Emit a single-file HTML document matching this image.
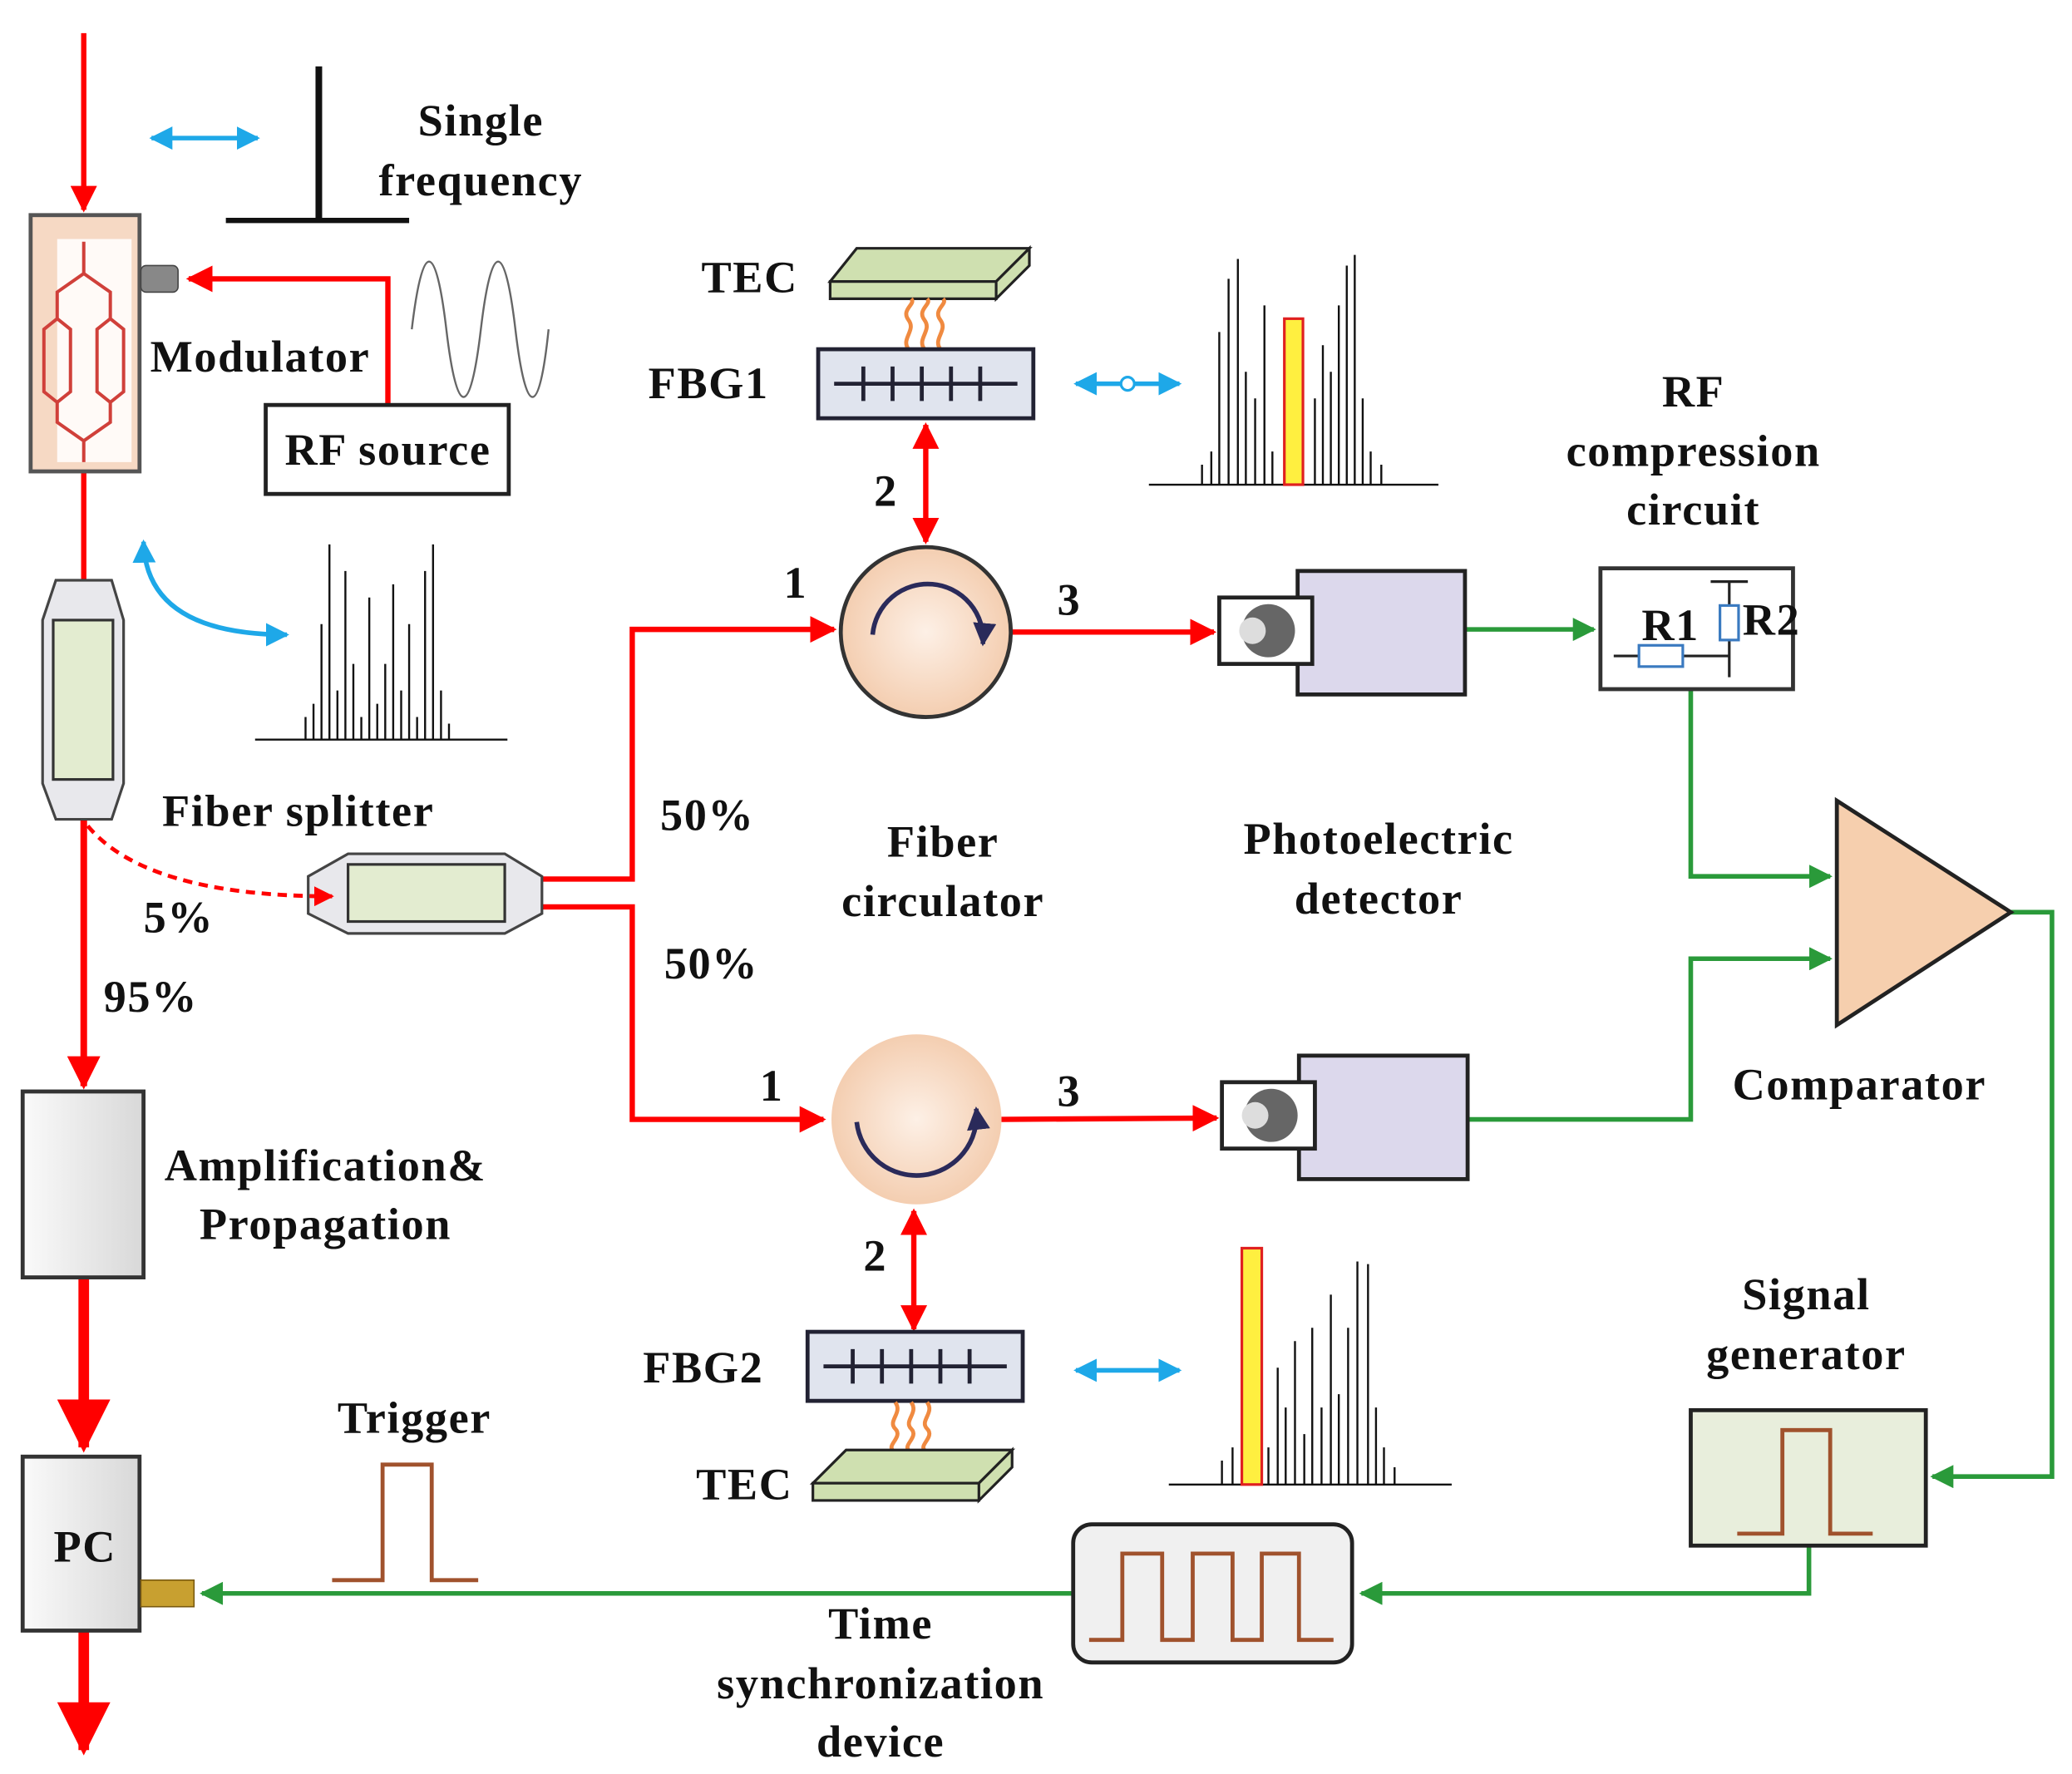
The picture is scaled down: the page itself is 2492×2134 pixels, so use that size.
<!DOCTYPE html>
<html><head><meta charset="utf-8"><style>
html,body{margin:0;padding:0;background:#fff;}
svg{display:block;}
text{font-family:"Liberation Serif",serif;font-weight:bold;font-size:34px;letter-spacing:1px;fill:#111;}
</style></head><body>
<svg width="2492" height="2134" viewBox="0 0 1560 1336" xmlns="http://www.w3.org/2000/svg">
<defs>
<marker id="ar" viewBox="0 0 10 10" refX="9" refY="5" markerWidth="5" markerHeight="5" orient="auto-start-reverse"><path d="M0,0L10,5L0,10z" fill="#f00"/></marker>
<marker id="ag" viewBox="0 0 10 10" refX="9" refY="5" markerWidth="5" markerHeight="5" orient="auto-start-reverse"><path d="M0,0L10,5L0,10z" fill="#2a9a3a"/></marker>
<marker id="ab" viewBox="0 0 10 10" refX="9" refY="5" markerWidth="5" markerHeight="5" orient="auto-start-reverse"><path d="M0,0L10,5L0,10z" fill="#1ea8e8"/></marker>
<marker id="ak" viewBox="0 0 10 10" refX="9" refY="5" markerWidth="5" markerHeight="5" orient="auto"><path d="M0,0L10,5L0,10z" fill="#2a2a5a"/></marker>
<radialGradient id="cg" cx="0.5" cy="0.5" r="0.6"><stop offset="0" stop-color="#fdf0e6"/><stop offset="1" stop-color="#f2c7a6"/></radialGradient>
<linearGradient id="gg" x1="0" x2="1"><stop offset="0" stop-color="#fafafa"/><stop offset="1" stop-color="#d8d8d8"/></linearGradient>
</defs>
<g stroke="#f00" stroke-width="4" fill="none">
<line x1="63" y1="25" x2="63" y2="158" marker-end="url(#ar)"/>
<polyline points="292,305 292,210 142,210" marker-end="url(#ar)"/>
<line x1="63" y1="355" x2="63" y2="463" marker-end="url(#ar)"/>
<line x1="63" y1="617" x2="63" y2="818" stroke-width="5" marker-end="url(#ar)"/>
<polyline points="408,662 476,662 476,474 628,474" marker-end="url(#ar)"/>
<polyline points="408,683 476,683 476,843 620,843" marker-end="url(#ar)"/>
<line x1="762" y1="476" x2="914" y2="476" marker-end="url(#ar)"/>
<line x1="754" y1="843" x2="916" y2="842" marker-end="url(#ar)"/>
<line x1="697" y1="320" x2="697" y2="408" marker-start="url(#ar)" marker-end="url(#ar)"/>
<line x1="688" y1="912" x2="688" y2="1001" marker-start="url(#ar)" marker-end="url(#ar)"/>
<line x1="63" y1="962" x2="63" y2="1090" stroke-width="8" marker-end="url(#ar)"/>
<line x1="63" y1="1228" x2="63" y2="1318" stroke-width="8" marker-end="url(#ar)"/>
</g>
<g stroke="#2a9a3a" stroke-width="3.5" fill="none">
<line x1="1103" y1="474" x2="1200" y2="474" marker-end="url(#ag)"/>
<polyline points="1273,519 1273,660 1378,660" marker-end="url(#ag)"/>
<polyline points="1105,843 1273,843 1273,722 1378,722" marker-end="url(#ag)"/>
<polyline points="1514,687 1545,687 1545,1112 1455,1112" marker-end="url(#ag)"/>
<polyline points="1362,1164 1362,1200 1025,1200" marker-end="url(#ag)"/>
<line x1="808" y1="1200" x2="152" y2="1200" marker-end="url(#ag)"/>
</g>
<g stroke="#1ea8e8" stroke-width="3.5" fill="none">
<line x1="114" y1="104" x2="194" y2="104" marker-start="url(#ab)" marker-end="url(#ab)"/>
<path d="M108,408 Q110,478 216,478" marker-start="url(#ab)" marker-end="url(#ab)"/>
<line x1="810" y1="289" x2="888" y2="289" marker-start="url(#ab)" marker-end="url(#ab)"/>
<line x1="810" y1="1032" x2="888" y2="1032" marker-start="url(#ab)" marker-end="url(#ab)"/>
</g>
<circle cx="849" cy="289" r="5" fill="#fff" stroke="#1ea8e8" stroke-width="2"/>
<line x1="240" y1="50" x2="240" y2="166" stroke="#111" stroke-width="5"/>
<line x1="170" y1="166" x2="308" y2="166" stroke="#111" stroke-width="4"/>
<text x="362" y="102" text-anchor="middle">Single</text>
<text x="362" y="147" text-anchor="middle">frequency</text>
<rect x="23" y="162" width="82" height="193" fill="#f6d9c4" stroke="#555" stroke-width="3"/>
<rect x="43" y="180" width="56" height="168" fill="#fffaf7"/>
<g stroke="#d0403a" stroke-width="2.5" fill="none">
<path d="M63,182V206L43,220V240L33,248V295L43,303V318L63,332V348"/>
<path d="M63,206L83,220V240L93,248V295L83,303V318L63,332"/>
<path d="M43,240L53,248V295L43,303M83,240L73,248V295L83,303"/>
</g>
<rect x="106" y="200" width="28" height="20" rx="4" fill="#888" stroke="#444"/>
<text x="113" y="280">Modulator</text>
<path d="M310,248 C318,180 328,180 336,248 C344,316 354,316 362,248 C370,180 380,180 388,248 C396,316 406,316 413,248" stroke="#666" stroke-width="1.5" fill="none"/>
<rect x="200" y="305" width="183" height="67" fill="#fff" stroke="#222" stroke-width="3"/>
<text x="292" y="350" text-anchor="middle">RF source</text>
<path d="M42,437H84L93,467V590L84,617H42L32,590V467z" fill="#e8e8ec" stroke="#444" stroke-width="2"/>
<rect x="40" y="467" width="45" height="120" fill="#e3ecd0" stroke="#333" stroke-width="2"/>
<text x="122" y="622">Fiber splitter</text>
<text x="108" y="702">5%</text>
<text x="78" y="762">95%</text>
<g stroke="#111" stroke-width="1.5">
<line x1="192" y1="557" x2="382" y2="557"/>
<path d="M230,557V540M236,557V530M242,557V470M248,557V410M254,557V520M260,557V430M266,557V500M272,557V540M278,557V450M284,557V530M290,557V500M296,557V440M302,557V520M308,557V470M314,557V540M320,557V430M326,557V410M332,557V520M338,557V545"/>
</g>
<path d="M262,643H380L408,660V688L380,703H262L232,688V660z" fill="#e8e8ec" stroke="#444" stroke-width="2"/>
<rect x="262" y="651" width="118" height="43" fill="#e3ecd0" stroke="#333" stroke-width="2"/>
<path d="M66,622 Q110,675 250,675" stroke="#f00" stroke-dasharray="7,5" stroke-width="3" fill="none" marker-end="url(#ar)"/>
<text x="497" y="625">50%</text>
<text x="500" y="737">50%</text>
<path d="M625,212L645,187H775L750,212z" fill="#cfe0b0" stroke="#222" stroke-width="2"/>
<path d="M625,212H750V225H625z M750,212L775,187V200L750,225z" fill="#cfe0b0" stroke="#222" stroke-width="2"/>
<g stroke="#f08a40" stroke-width="3" fill="none">
<path d="M684,263c-6,-8 6,-14 0,-22s6,-12 2,-16M696,263c-6,-8 6,-14 0,-22s6,-12 2,-16M708,263c-6,-8 6,-14 0,-22s6,-12 2,-16"/>
</g>
<rect x="616" y="263" width="162" height="52" fill="#e0e4ee" stroke="#223" stroke-width="3"/>
<g stroke="#223" stroke-width="3"><line x1="628" y1="289" x2="766" y2="289"/><path d="M650,276V302M672,276V302M694,276V302M716,276V302M738,276V302"/></g>
<text x="528" y="220">TEC</text>
<text x="488" y="300">FBG1</text>
<g stroke="#111" stroke-width="1.5">
<line x1="865" y1="365" x2="1083" y2="365"/>
<path d="M905,365V350M912,365V340M918,365V250M925,365V210M932,365V195M938,365V280M945,365V300M952,365V230M958,365V340M990,365V300M996,365V260M1002,365V280M1008,365V230M1014,365V200M1020,365V192M1026,365V300M1032,365V340M1040,365V350"/>
</g>
<rect x="967" y="240" width="14" height="125" fill="#ffef40" stroke="#e02020" stroke-width="2"/>
<circle cx="697" cy="476" r="64" fill="url(#cg)" stroke="#333" stroke-width="3"/>
<path d="M657,478 A40,40 0 1,1 740,485" stroke="#2a2a5a" stroke-width="3.5" fill="none" marker-end="url(#ak)"/>
<text x="590" y="450" font-weight="normal">1</text>
<text x="796" y="463" font-weight="normal">3</text>
<text x="658" y="381" font-weight="normal">2</text>
<text x="710" y="645" text-anchor="middle">Fiber</text>
<text x="710" y="690" text-anchor="middle">circulator</text>
<circle cx="690" cy="843" r="64" fill="url(#cg)"/>
<path d="M645,845 A42,42 0 0,0 735,835" stroke="#2a2a5a" stroke-width="3.5" fill="none" marker-end="url(#ak)"/>
<text x="572" y="829" font-weight="normal">1</text>
<text x="796" y="833" font-weight="normal">3</text>
<text x="650" y="957" font-weight="normal">2</text>
<rect x="608" y="1003" width="162" height="52" fill="#e0e4ee" stroke="#223" stroke-width="3"/>
<g stroke="#223" stroke-width="3"><line x1="620" y1="1029" x2="758" y2="1029"/><path d="M642,1016V1042M664,1016V1042M686,1016V1042M708,1016V1042M730,1016V1042"/></g>
<g stroke="#f08a40" stroke-width="3" fill="none">
<path d="M674,1056c6,8 -6,14 0,20s-6,12 -2,16M686,1056c6,8 -6,14 0,20s-6,12 -2,16M698,1056c6,8 -6,14 0,20s-6,12 -2,16"/>
</g>
<path d="M612,1117L637,1092H762L737,1117z" fill="#cfe0b0" stroke="#222" stroke-width="2"/>
<path d="M612,1117H737V1130H612z M737,1117L762,1092V1105L737,1130z" fill="#cfe0b0" stroke="#222" stroke-width="2"/>
<text x="484" y="1041">FBG2</text>
<text x="524" y="1129">TEC</text>
<g stroke="#111" stroke-width="1.5">
<line x1="880" y1="1118" x2="1093" y2="1118"/>
<path d="M920,1118V1100M928,1118V1090M955,1118V1090M962,1118V1030M968,1118V1060M975,1118V1010M982,1118V1080M988,1118V1000M995,1118V1060M1002,1118V975M1008,1118V1050M1015,1118V1000M1022,1118V950M1030,1118V952M1036,1118V1060M1042,1118V1090M1050,1118V1105"/>
</g>
<rect x="935" y="940" width="15" height="178" fill="#ffef40" stroke="#e02020" stroke-width="2"/>
<g>
<rect x="977" y="430" width="126" height="93" fill="#dcd8ec" stroke="#222" stroke-width="3"/>
<rect x="918" y="450" width="70" height="50" fill="#fff" stroke="#222" stroke-width="3"/>
<circle cx="955" cy="475" r="20" fill="#666"/><circle cx="943" cy="475" r="10" fill="#ddd"/>
<rect x="978" y="795" width="127" height="93" fill="#dcd8ec" stroke="#222" stroke-width="3"/>
<rect x="920" y="815" width="70" height="50" fill="#fff" stroke="#222" stroke-width="3"/>
<circle cx="957" cy="840" r="20" fill="#666"/><circle cx="945" cy="840" r="10" fill="#ddd"/>
</g>
<text x="1038" y="643" text-anchor="middle">Photoelectric</text>
<text x="1038" y="688" text-anchor="middle">detector</text>
<text x="1275" y="306" text-anchor="middle">RF</text>
<text x="1275" y="351" text-anchor="middle">compression</text>
<text x="1275" y="395" text-anchor="middle">circuit</text>
<rect x="1205" y="428" width="145" height="91" fill="#fff" stroke="#333" stroke-width="3"/>
<g stroke="#222" stroke-width="2" fill="none">
<line x1="1215" y1="494" x2="1302" y2="494"/><line x1="1302" y1="438" x2="1302" y2="510"/><line x1="1288" y1="438" x2="1316" y2="438"/>
</g>
<rect x="1234" y="486" width="33" height="16" fill="#fff" stroke="#3a7ac0" stroke-width="2"/>
<rect x="1295" y="456" width="14" height="26" fill="#fff" stroke="#3a7ac0" stroke-width="2"/>
<text x="1236" y="482" font-size="22" font-weight="normal" letter-spacing="0" fill="#333">R1</text>
<text x="1312" y="478" font-size="22" font-weight="normal" letter-spacing="0" fill="#333">R2</text>
<path d="M1383,603L1514,687L1383,772z" fill="#f6cfae" stroke="#222" stroke-width="3"/>
<text x="1400" y="828" text-anchor="middle">Comparator</text>
<text x="1360" y="986" text-anchor="middle">Signal</text>
<text x="1360" y="1031" text-anchor="middle">generator</text>
<rect x="1273" y="1062" width="177" height="102" fill="#e8eedc" stroke="#222" stroke-width="3"/>
<path d="M1308,1155H1342V1077H1378V1155H1410" stroke="#a0522d" stroke-width="3" fill="none"/>
<rect x="808" y="1148" width="210" height="104" rx="14" fill="#f0f0f0" stroke="#222" stroke-width="3"/>
<path d="M820,1235H845V1170H875V1235H898V1170H928V1235H950V1170H978V1235H1004" stroke="#a0522d" stroke-width="3" fill="none"/>
<text x="663" y="1234" text-anchor="middle">Time</text>
<text x="663" y="1279" text-anchor="middle">synchronization</text>
<text x="663" y="1323" text-anchor="middle">device</text>
<rect x="17" y="822" width="91" height="140" fill="url(#gg)" stroke="#333" stroke-width="3"/>
<text x="245" y="889" text-anchor="middle">Amplification&amp;</text>
<text x="245" y="933" text-anchor="middle">Propagation</text>
<rect x="17" y="1097" width="88" height="131" fill="url(#gg)" stroke="#333" stroke-width="3"/>
<text x="64" y="1176" text-anchor="middle">PC</text>
<rect x="106" y="1190" width="40" height="20" fill="#c8a030" stroke="#7a5a10"/>
<text x="312" y="1079" text-anchor="middle">Trigger</text>
<path d="M250,1190H288V1103H325V1190H360" stroke="#a0522d" stroke-width="3" fill="none"/>
</svg>
</body></html>
